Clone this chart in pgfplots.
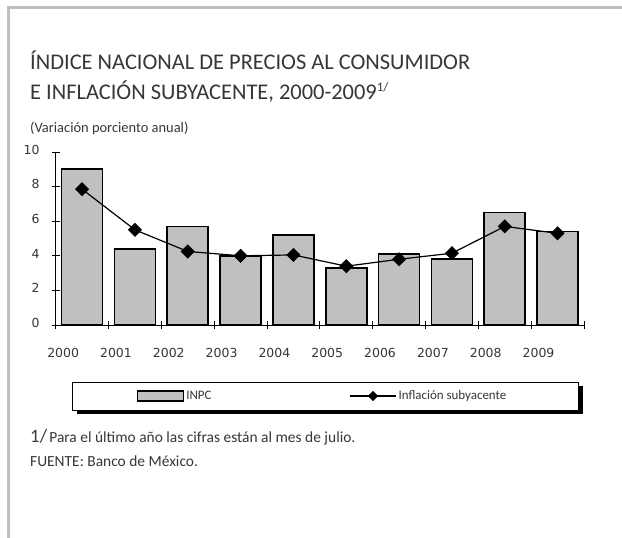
\documentclass[border=0pt]{standalone}
\usepackage{pgfplots}
\pgfplotsset{compat=1.18}
\usepackage{fontspec}
\setmainfont{Carlito}
\newfontfamily\dejavu{DejaVu Sans}
\definecolor{txt}{RGB}{55,55,55}
\definecolor{silver}{RGB}{192,192,192}
\definecolor{framegray}{RGB}{191,191,191}
\pgfplotsset{linelegend/.style={legend image code/.code={\draw[mark repeat=2, mark phase=2, ##1, mark size=3bp] plot coordinates {(0bp,0bp) (23bp,0bp) (46bp,0bp)};}}}
\begin{document}
\begin{tikzpicture}[x=1bp,y=1bp]
\useasboundingbox (0,0) rectangle (622,-538);
\fill[white] (0,0) rectangle (622,-538);
\draw[framegray, line width=3bp] (7,-7.5) -- (622,-7.5);
\draw[framegray, line width=3bp] (8.5,-6) -- (8.5,-538);
\node[anchor=base west, inner sep=0, text=txt, font=\fontsize{22.5}{22.5}\selectfont] at (30,-69.5) {ÍNDICE NACIONAL DE PRECIOS AL CONSUMIDOR};
\node[anchor=base west, inner sep=0, text=txt, font=\fontsize{22.5}{22.5}\selectfont] at (30,-99.5) {E INFLACIÓN SUBYACENTE, 2000-2009\raisebox{8bp}{\fontsize{13}{13}\selectfont 1/}};
\node[anchor=base west, inner sep=0, text=txt, font=\fontsize{14.5}{14.5}\selectfont] at (30,-133) {(Variación porciento anual)};
\fill[black] (77,-386) rectangle (583,-414);
\filldraw[fill=white, draw=black, line width=0.8bp] (72,-382) rectangle (578,-410);
\node[anchor=base west, inner sep=0, text=txt] at (30,-442) {{\fontsize{19}{19}\selectfont 1/} {\fontsize{15.5}{15.5}\selectfont Para el último año las cifras están al mes de julio.}};
\node[anchor=base west, inner sep=0, text=txt, font=\fontsize{15.5}{15.5}\selectfont] at (30,-466) {FUENTE: Banco de México.};
\begin{axis}[
  at={(55.7bp,-325bp)}, anchor=south west,
  scale only axis, width=528.3bp, height=173bp,
  xmin=-0.5, xmax=9.5, ymin=0, ymax=10,
  axis lines=left, axis line style={-, black, line width=0.8bp},
  tick align=center, major tick length=8bp,
  tick style={black, line width=0.8bp},
  ytick={0,2,4,6,8,10},
  xtick={-0.5,0.5,1.5,2.5,3.5,4.5,5.5,6.5,7.5,8.5,9.5},
  xticklabels={},
  extra x ticks={-0.36,0.64,1.64,2.64,3.64,4.64,5.64,6.64,7.64,8.64},
  extra x tick labels={2000,2001,2002,2003,2004,2005,2006,2007,2008,2009},
  extra x tick style={major tick length=0pt, tick style={draw=none},
    xticklabel style={anchor=base, yshift=-32bp}},
  /pgf/number format/assume math mode=true,
  tick label style={font=\dejavu\fontsize{12.5}{12.5}\selectfont, text=txt},
  yticklabel style={anchor=mid east, inner sep=0pt, xshift=-12bp},
  clip=false,
  legend style={draw=none, fill=none, inner sep=0pt, outer sep=0pt,
    at={(0.1541,-0.4104)}, anchor=west,
    nodes={inner sep=0pt, text=txt, font=\fontsize{13}{13}\selectfont},
    /tikz/column sep=0pt},
  legend columns=2, legend cell align=left,
]
\addplot[ybar, bar width=41bp, fill=silver, draw=black, line width=1.7bp,
  legend image code/.code={\draw[fill=silver, draw=black, line width=1.2bp] (0bp,-5bp) rectangle (46bp,5bp);}]
  coordinates {(0,9.0) (1,4.4) (2,5.7) (3,4.0) (4,5.2) (5,3.3) (6,4.1) (7,3.8) (8,6.5) (9,5.4)};
\addlegendentry{\makebox[165bp][l]{\hspace{2bp}INPC}}
\addplot[black, line width=1.2bp, mark=square*, mark size=4.4bp, mark options={rotate=45, solid}, linelegend]
  coordinates {(0,7.85) (1,5.5) (2,4.25) (3,4.0) (4,4.05) (5,3.4) (6,3.8) (7,4.15) (8,5.7) (9,5.3)};
\addlegendentry{\hspace{2bp}Inflación subyacente}
\end{axis}
\end{tikzpicture}
\end{document}
